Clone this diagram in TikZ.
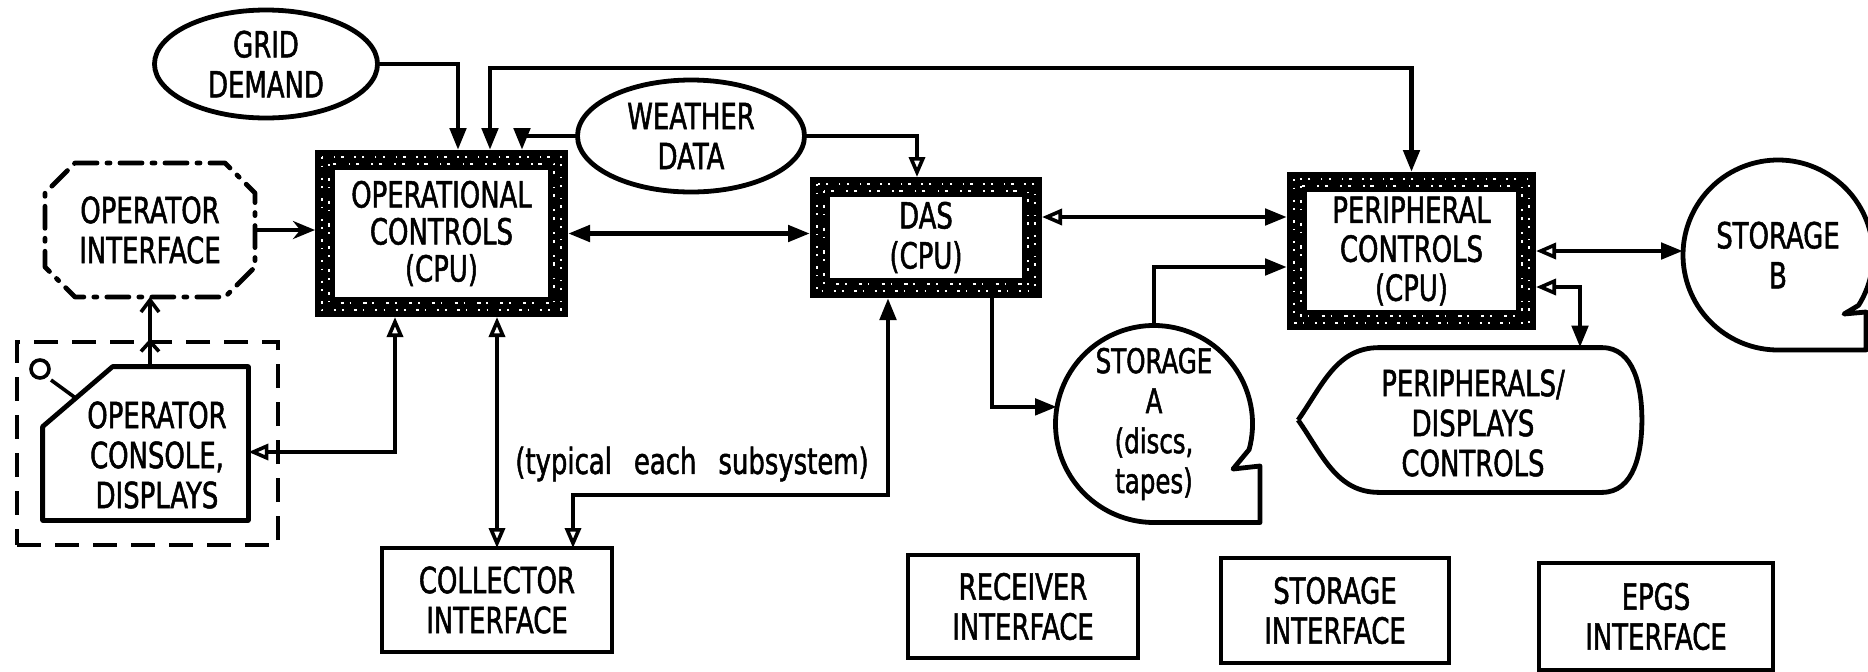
\documentclass[tikz,border=0pt]{standalone}
\usepackage{fontspec}
\setmainfont{DejaVu Sans}[FakeStretch=0.72, FakeBold=1.4]
\usetikzlibrary{arrows.meta,shapes.geometric,calc,decorations.markings}
\newcommand\dgf{\fontsize{18}{20}\selectfont}
\newcommand\cpuspeck[1]{%
  \draw[spk] ($(#1.north west)+(7,7)$) rectangle ($(#1.south east)+(-7,-7)$);
  \draw[spkb] ($(#1.north west)+(14,14)$) rectangle ($(#1.south east)+(-14,-14)$);}
\tikzset{
  ft/.tip={Triangle[length=11pt,width=8pt]},
  ot/.tip={Triangle[open,length=10pt,width=8pt,line width=1.8pt]},
  conn/.style={line width=2.4pt},
  lbl/.style={inner sep=0pt, outer sep=0pt, align=center, font=\dgf},
  oval/.style={lbl, ellipse, draw, line width=2.4pt},
  cpu/.style={lbl, rectangle, draw, line width=10pt, outer sep=5pt},
  plain/.style={lbl, rectangle, draw, line width=2.4pt},
  shapeline/.style={line width=2.4pt, line join=round},
  spk/.style={white, line width=1.3pt, dash pattern=on 1.2pt off 3.1pt on 0.7pt off 5.3pt},
  spkb/.style={white, line width=1pt, dash pattern=on 0.8pt off 6.1pt on 1.6pt off 2.9pt},
  midchev/.style={postaction={decorate, decoration={markings,
      mark=at position 0.4 with {\arrow{Straight Barb[length=5pt,width=9pt,line width=1.8pt]}}}}},
}
\begin{document}
\begin{tikzpicture}[x=0.5pt,y=-0.5pt]
\fill[white] (0,0) rectangle (1868,671);
\useasboundingbox (0,0) rectangle (1868,671);

% ---------- nodes ----------
\node[oval, minimum width=111.5pt, minimum height=54pt] (grid) at (266,64) {GRID\\DEMAND};
\node[oval, minimum width=113.5pt, minimum height=56pt] (wea) at (691,136) {WEATHER\\DATA};

\node[cpu, minimum width=116.5pt, minimum height=73.5pt, font=\fontsize{18}{18.5}\selectfont] (oc) at (441.5,233.5) {OPERATIONAL\\CONTROLS\\(CPU)};
\node[cpu, minimum width=106pt, minimum height=50.5pt] (das) at (926,237.5) {DAS\\(CPU)};
\node[cpu, minimum width=114.5pt, minimum height=69pt, font=\fontsize{18}{19.5}\selectfont] (pc) at (1411.5,251) {PERIPHERAL\\CONTROLS\\(CPU)};
\cpuspeck{oc}
\cpuspeck{das}
\cpuspeck{pc}

% operator interface (chamfered, dash-dot)
\node[lbl, minimum width=105pt, minimum height=67pt] (oi) at (150,230) {OPERATOR\\INTERFACE};
\draw[shapeline, line cap=round, dash pattern=on 11pt off 5pt on 1.5pt off 5pt]
  ($(oi.north west)+(30,0)$) -- ($(oi.north east)+(-30,0)$) -- ($(oi.north east)+(0,30)$)
  -- ($(oi.south east)+(0,-30)$) -- ($(oi.south east)+(-30,0)$) -- ($(oi.south west)+(30,0)$)
  -- ($(oi.south west)+(0,-30)$) -- ($(oi.north west)+(0,30)$) -- cycle;

% operator console in dashed frame
\node[draw, line width=2.4pt, dash pattern=on 12pt off 7pt, minimum width=130.5pt, minimum height=101.5pt] (odb) at (147.5,443.5) {};
\node[minimum width=102.5pt, minimum height=76.5pt, inner sep=0pt] (con) at (145.5,443.5) {};
\draw[shapeline] ($(con.north west)+(70,0)$) -- (con.north east) -- (con.south east)
  -- (con.south west) -- ($(con.north west)+(0,60)$) -- cycle;
\node[lbl] (contxt) at (157,455) {OPERATOR\\CONSOLE,\\DISPLAYS};
\draw[line width=1.8pt] (40,369) circle[radius=4.5pt];
\draw[line width=1.8pt] (51,380) -- (77,399);

% interface boxes
\node[plain, minimum width=115pt, minimum height=52pt] (ci) at (497,600) {COLLECTOR\\INTERFACE};
\node[plain, minimum width=115pt, minimum height=51.5pt] (rec) at (1023,606.5) {RECEIVER\\INTERFACE};
\node[plain, minimum width=114pt, minimum height=52.5pt] (sti) at (1335,610.5) {STORAGE\\INTERFACE};
\node[plain, minimum width=117pt, minimum height=53.5pt] (epgs) at (1656,616.5) {EPGS\\INTERFACE};

% storage A (tape symbol)
\node[lbl, circle, minimum size=98.5pt, font=\fontsize{17}{20}\selectfont] (stA) at (1154,424) {STORAGE\\A\\(discs,\\tapes)};
\coordinate (tA) at (1260,466);
\draw[shapeline] (stA.-15) arc[start angle=-15, end angle=270, radius=49.25pt]
  -- (tA |- stA.south) -- (tA) -- ++(-27,3) -- cycle;

% storage B (tape symbol)
\node[lbl, circle, minimum size=95pt] (stB) at (1778,255) {STORAGE\\B};
\coordinate (tB) at (1866,312);
\draw[shapeline] (stB.-32) arc[start angle=-32, end angle=270, radius=47.5pt]
  -- (tB |- stB.south) -- (tB) -- ++(-22,2) -- cycle;

% peripherals / displays (display symbol)
\node[minimum width=171.5pt, minimum height=72pt, inner sep=0pt] (periph) at (1470,420) {};
\draw[shapeline] (periph.west) to[out=55,in=180] ($(periph.north west)+(81,0)$)
  -- ($(periph.north east)+(-40,0)$) to[out=0,in=90] (periph.east)
  to[out=-90,in=0] ($(periph.south east)+(-40,0)$) -- ($(periph.south west)+(81,0)$)
  to[out=180,in=-55] (periph.west);
\node[lbl] (pertxt) at (1473,423) {PERIPHERALS/\\DISPLAYS\\CONTROLS};

% label
\node[lbl] (typ) at (692,464) {(typical\hspace{11pt}each\hspace{11pt}subsystem)};

% ---------- helper coordinates ----------
\coordinate (gx) at (458,0);
\coordinate (tx) at (490,68);
\coordinate (wx) at (522,0);
\coordinate (dx) at (917,0);
\coordinate (c1) at (395,452);
\coordinate (d1) at (888,495);
\coordinate (d2) at (573,495);
\coordinate (sx) at (992,0);
\coordinate (y1) at (0,217);
\coordinate (y2) at (0,267);
\coordinate (p1) at (1580,287);

% ---------- connectors ----------
\draw[conn,-ft] (grid.east) -| (oc.north -| gx);
\draw[conn,ft-ft] (oc.north -| tx) -- (tx) -| (pc.north);
\draw[conn,-ft] (wea.west) -| (oc.north -| wx);
\draw[conn,-ot] (wea.east) -| (das.north -| dx);
\draw[conn,-{Stealth[length=11pt,width=9pt]}] (oi.east) -- (oi.east -| oc.west);
\draw[conn,midchev,-{Straight Barb[length=6pt,width=9pt,line width=1.8pt]}] (oi.south |- con.north) -- (oi.south);
\draw[conn,ot-ot] (oc.south -| c1) |- (con.east |- c1);
\draw[conn,ot-ot] (oc.south -| ci.north) -- (ci.north);
\draw[conn,ft-ot] (das.south -| d1) -- (d1) -- (d2) -- (ci.north -| d2);
\draw[conn,ft-ft] (oc.east) -- (oc.east -| das.west);
\draw[conn,ot-ft] (das.east |- y1) -- (pc.west |- y1);
\draw[conn,-ft] (das.south -| sx) |- (stA.170);
\draw[conn,-ft] (stA.north) |- (pc.west |- y2);
\draw[conn,ot-ft] (pc.east) -- (pc.east -| stB.west);
\draw[conn,ot-ft] (pc.east |- p1) -| (periph.north -| p1);
\end{tikzpicture}
\end{document}
